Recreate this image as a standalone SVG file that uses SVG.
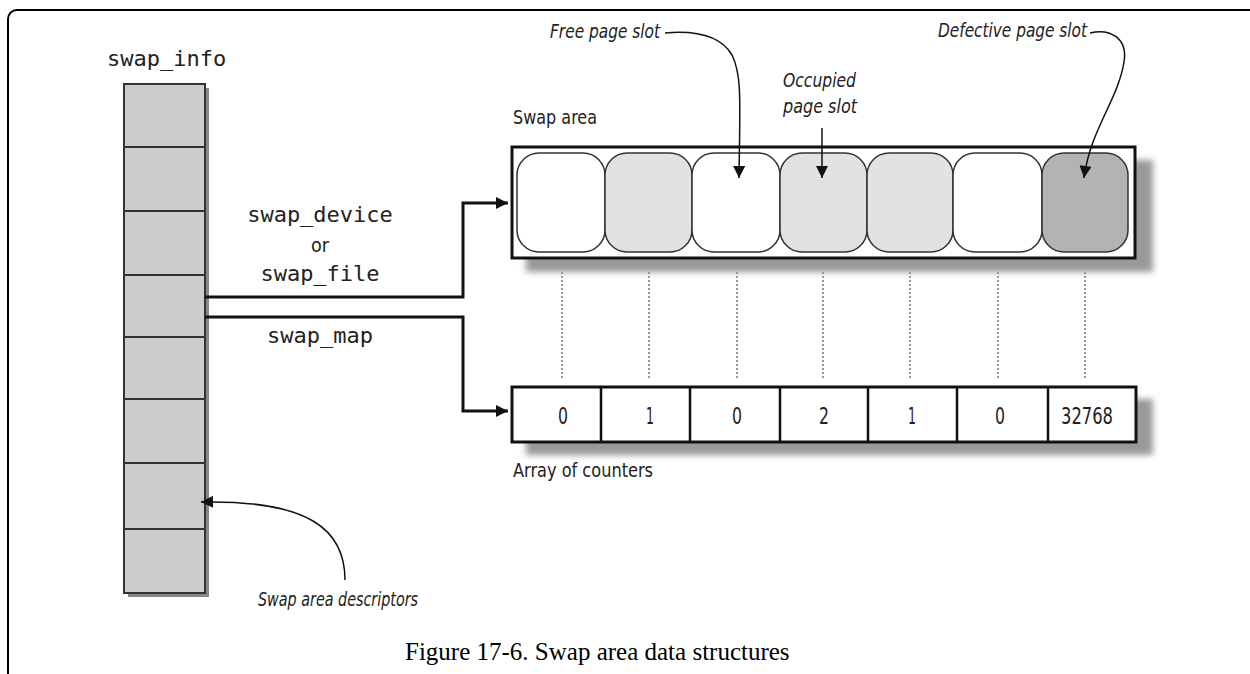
<svg xmlns="http://www.w3.org/2000/svg" width="1250" height="674" viewBox="0 0 1250 674">
<defs>
<style>
.mono{font-family:"DejaVu Sans Mono","Liberation Mono",monospace;font-size:22px;fill:#222}
.lbl{font-family:"DejaVu Sans Condensed","Liberation Sans",sans-serif;font-size:20px;fill:#222}
.ital{font-family:"DejaVu Sans Condensed","Liberation Sans",sans-serif;font-size:20px;font-style:italic;fill:#222}
.num{font-family:"DejaVu Sans Condensed","Liberation Sans",sans-serif;font-size:23px;fill:#222;text-anchor:middle}
.cap{font-family:"Liberation Serif","Times New Roman",serif;font-size:25px;fill:#000}
.cell{fill:#cccccc;stroke:#333;stroke-width:2}
.slot{stroke:#333;stroke-width:1.5}
.dot{stroke:#999;stroke-width:2;stroke-dasharray:2,2;fill:none}
.conn{fill:none;stroke:#111;stroke-width:3}
.thin{fill:none;stroke:#111;stroke-width:1.5}
</style>
<marker id="ah" viewBox="0 0 10 10" refX="10" refY="5" markerWidth="5" markerHeight="4" orient="auto" markerUnits="strokeWidth"><path d="M0,0 L10,5 L0,10 z" fill="#111"/></marker>
<marker id="ahs" viewBox="0 0 10 10" refX="10" refY="5" markerWidth="9" markerHeight="8" orient="auto" markerUnits="strokeWidth"><path d="M0,0 L10,5 L0,10 z" fill="#111"/></marker>
<filter id="sh" x="-10%" y="-10%" width="130%" height="160%"><feGaussianBlur stdDeviation="3"/></filter>
</defs>
<rect x="8" y="10" width="1260" height="700" rx="9" fill="#fff" stroke="#000" stroke-width="2"/>

<g id="swap_info">
<text class="mono" x="107" y="66">swap_info</text>
<rect x="128" y="88" width="81" height="509" fill="#888"/>
<rect x="124" y="84" width="81" height="509" class="cell"/>
<path d="M124 147H205M124 211H205M124 275H205M124 337H205M124 399H205M124 463H205M124 529H205" stroke="#333" stroke-width="2"/>
</g>

<g id="swap_area">
<text class="lbl" x="513" y="124" textLength="84" lengthAdjust="spacingAndGlyphs">Swap area</text>
<rect x="526" y="160" width="627" height="112" fill="#999" filter="url(#sh)"/>
<rect x="512" y="147" width="623" height="111" fill="#fff" stroke="#111" stroke-width="3"/>
<rect x="517" y="153" width="88" height="99" rx="22" fill="#fff" class="slot"/>
<rect x="605" y="153" width="87" height="99" rx="22" fill="#e2e2e2" class="slot"/>
<rect x="692" y="153" width="88" height="99" rx="22" fill="#fff" class="slot"/>
<rect x="780" y="153" width="87" height="99" rx="22" fill="#e2e2e2" class="slot"/>
<rect x="867" y="153" width="86" height="99" rx="22" fill="#e2e2e2" class="slot"/>
<rect x="953" y="153" width="89" height="99" rx="22" fill="#fff" class="slot"/>
<rect x="1042" y="153" width="86" height="99" rx="22" fill="#b3b3b3" class="slot"/>
</g>

<g id="counters">
<rect x="526" y="399" width="627" height="56" fill="#999" filter="url(#sh)"/>
<rect x="512" y="387" width="624" height="55" fill="#fff" stroke="#111" stroke-width="3"/>
<path d="M601 387V442M690 387V442M780 387V442M868 387V442M957 387V442M1048 387V442" stroke="#111" stroke-width="2.5"/>
<text class="num" x="563" y="424" textLength="10" lengthAdjust="spacingAndGlyphs">0</text>
<text class="num" x="650" y="424" textLength="8" lengthAdjust="spacingAndGlyphs">1</text>
<text class="num" x="737" y="424" textLength="10" lengthAdjust="spacingAndGlyphs">0</text>
<text class="num" x="824" y="424" textLength="10" lengthAdjust="spacingAndGlyphs">2</text>
<text class="num" x="912" y="424" textLength="8" lengthAdjust="spacingAndGlyphs">1</text>
<text class="num" x="1000" y="424" textLength="10" lengthAdjust="spacingAndGlyphs">0</text>
<text class="num" x="1087" y="424" textLength="52" lengthAdjust="spacingAndGlyphs">32768</text>
<text class="lbl" x="513" y="477" textLength="140" lengthAdjust="spacingAndGlyphs">Array of counters</text>
</g>

<g id="connectors">
<path class="dot" d="M562 272V379M649 272V379M737 272V379M823 272V379M910 272V379M998 272V379M1085 272V379"/>
<path class="conn" d="M205 297H463V203H508" marker-end="url(#ah)"/>
<path class="conn" d="M205 317H463V411H508" marker-end="url(#ah)"/>
<path class="thin" d="M665 33C700 30 722 38 732 55C742 75 740 100 739 178" marker-end="url(#ahs)"/>
<path class="thin" d="M822 128V178" marker-end="url(#ahs)"/>
<path class="thin" d="M1090 33C1110 28 1128 38 1124 62C1118 100 1090 130 1084 178" marker-end="url(#ahs)"/>
<path class="thin" d="M345 580C345 530 310 500 201 502" marker-end="url(#ahs)"/>
</g>

<g id="labels">
<text class="mono" x="320" y="222" text-anchor="middle">swap_device</text>
<text class="lbl" x="320" y="252" text-anchor="middle" textLength="18" lengthAdjust="spacingAndGlyphs">or</text>
<text class="mono" x="320" y="281" text-anchor="middle">swap_file</text>
<text class="mono" x="320" y="343" text-anchor="middle">swap_map</text>
<text class="ital" x="550" y="38" textLength="110" lengthAdjust="spacingAndGlyphs">Free page slot</text>
<text class="ital" x="783" y="87" textLength="73" lengthAdjust="spacingAndGlyphs">Occupied</text>
<text class="ital" x="783" y="113" textLength="74" lengthAdjust="spacingAndGlyphs">page slot</text>
<text class="ital" x="938" y="37" textLength="149" lengthAdjust="spacingAndGlyphs">Defective page slot</text>
<text class="ital" x="258" y="606" textLength="160" lengthAdjust="spacingAndGlyphs">Swap area descriptors</text>
</g>
<text class="cap" x="405" y="660">Figure 17-6. Swap area data structures</text>
</svg>
